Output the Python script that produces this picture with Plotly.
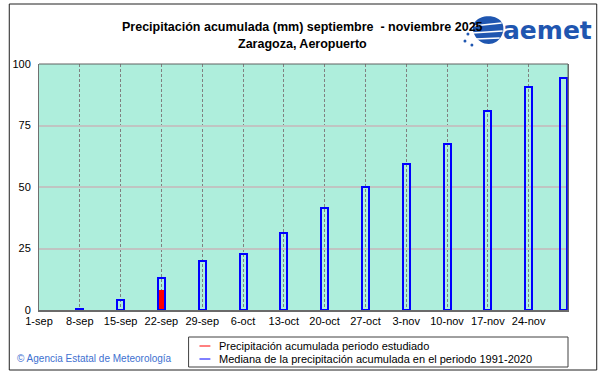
import plotly.graph_objects as go

# ---- data ----
week_dates = ["2025-09-08", "2025-09-15", "2025-09-22", "2025-09-29", "2025-10-06",
              "2025-10-13", "2025-10-20", "2025-10-27", "2025-11-03", "2025-11-10",
              "2025-11-17", "2025-11-24", "2025-11-30"]
median_1991_2020 = [0.4, 4.1, 13.1, 19.9, 22.6, 31.2, 41.3, 50.0, 59.2, 67.3, 81.0, 90.8, 94.2]

obs_dates = ["2025-09-08", "2025-09-15", "2025-09-22"]
observed = [0.0, 0.0, 8.1]

tick_dates = ["2025-09-01", "2025-09-08", "2025-09-15", "2025-09-22", "2025-09-29",
              "2025-10-06", "2025-10-13", "2025-10-20", "2025-10-27", "2025-11-03",
              "2025-11-10", "2025-11-17", "2025-11-24"]
tick_labels = ["1-sep", "8-sep", "15-sep", "22-sep", "29-sep", "6-oct", "13-oct",
               "20-oct", "27-oct", "3-nov", "10-nov", "17-nov", "24-nov"]
y_ticks = [0, 25, 50, 75, 100]

title1 = "Precipitación acumulada (mm) septiembre  - noviembre 2025"
title2 = "Zaragoza, Aeropuerto"
legend_labels = ["Precipitación acumulada periodo estudiado",
                 "Mediana de la precipitación acumulada en el periodo 1991-2020"]
credit = "© Agencia Estatal de Meteorología"

# ---- layout geometry (pixels) ----
W, H = 601, 374
L, R, T, B = 34, 568, 64, 310
DAY = 86400000


def px(x):
    return (x - L) / (R - L)


def py(y):
    return (B - y) / (B - T)


fig = go.Figure()

fig.add_trace(go.Bar(
    x=obs_dates, y=observed, width=[0.85 * DAY] * len(obs_dates),
    marker=dict(color="#ff0000", line=dict(width=0)),
    name=legend_labels[0], showlegend=False,
))
fig.add_trace(go.Bar(
    x=week_dates, y=median_1991_2020, width=[1.2 * DAY] * len(week_dates),
    marker=dict(color="rgba(0,0,0,0)", line=dict(color="#0000ff", width=2)),
    name=legend_labels[1], showlegend=False,
))

shapes = []
annotations = []

# outer frame
shapes.append(dict(type="rect", xref="paper", yref="paper",
                   x0=px(4), x1=px(597), y0=py(370), y1=py(4),
                   line=dict(color="#202020", width=1), layer="below"))

# legend box
shapes.append(dict(type="rect", xref="paper", yref="paper",
                   x0=px(185), x1=px(568), y0=py(367), y1=py(337),
                   line=dict(color="#404040", width=1)))
for yy, col, lab in [(346, "#ff0000", legend_labels[0]), (359, "#0000ff", legend_labels[1])]:
    shapes.append(dict(type="line", xref="paper", yref="paper",
                       x0=px(196), x1=px(207), y0=py(yy), y1=py(yy),
                       line=dict(color=col, width=1)))
    annotations.append(dict(text=lab, xref="paper", yref="paper", x=px(214), y=py(yy),
                            xanchor="left", yanchor="middle", showarrow=False,
                            font=dict(family="Arial, Liberation Sans", size=11, color="#000000")))

# titles
annotations.append(dict(text="<b>" + title1 + "</b>", xref="paper", yref="paper",
                        x=px(300), y=py(27), xanchor="center", yanchor="middle", showarrow=False,
                        font=dict(family="Arial, Liberation Sans", size=12.5, color="#000000")))
annotations.append(dict(text="<b>" + title2 + "</b>", xref="paper", yref="paper",
                        x=px(300), y=py(44), xanchor="center", yanchor="middle", showarrow=False,
                        font=dict(family="Arial, Liberation Sans", size=12.5, color="#000000")))

# logo icon (approximate swirl) and wordmark
shapes.append(dict(type="path", xref="paper", yref="paper",
                   path="M %f,%f C %f,%f %f,%f %f,%f C %f,%f %f,%f %f,%f C %f,%f %f,%f %f,%f Z" % (
                       px(474), py(22),
                       px(480), py(14), px(498), py(14), px(502), py(24),
                       px(505), py(32), px(499), py(44), px(488), py(44),
                       px(476), py(44), px(468), py(30), px(474), py(22)),
                   fillcolor="#1f56b0", line=dict(width=0)))
for (a, b, c, d) in [(472, 26, 501, 23), (471, 33, 502, 31), (475, 39, 499, 38)]:
    shapes.append(dict(type="line", xref="paper", yref="paper",
                       x0=px(a), y0=py(b), x1=px(c), y1=py(d),
                       line=dict(color="#ffffff", width=1.5)))
for (cx, cy) in [(467, 34), (464, 41), (471, 45)]:
    shapes.append(dict(type="circle", xref="paper", yref="paper",
                       x0=px(cx - 1.5), x1=px(cx + 1.5), y0=py(cy + 1.5), y1=py(cy - 1.5),
                       fillcolor="#1f56b0", line=dict(width=0)))
annotations.append(dict(text="<b>aemet</b>", xref="paper", yref="paper",
                        x=px(594), y=py(30), xanchor="right", yanchor="middle", showarrow=False,
                        font=dict(family="DejaVu Sans", size=25, color="#1f56b0")))

# credit
annotations.append(dict(text=credit, xref="paper", yref="paper", x=px(10), y=py(358),
                        xanchor="left", yanchor="middle", showarrow=False,
                        font=dict(family="Arial, Liberation Sans", size=10, color="#4070d0")))

fig.update_layout(
    width=W, height=H,
    margin=dict(l=L, r=W - R, t=T, b=H - B, pad=0),
    paper_bgcolor="#ffffff",
    plot_bgcolor="#aeeedc",
    barmode="overlay",
    bargap=0,
    showlegend=False,
    shapes=shapes,
    annotations=annotations,
    font=dict(family="Arial, Liberation Sans", size=11, color="#000000"),
)
fig.update_xaxes(
    type="date",
    range=["2025-09-01", "2025-11-30 18:00"],
    tickmode="array", tickvals=tick_dates, ticktext=tick_labels,
    showgrid=True, gridcolor="#808080", griddash="3px,2px", gridwidth=1,
    showline=True, linecolor="#6a6a6a", linewidth=2, mirror=False,
    ticks="", tickfont=dict(size=11, color="#000000"), zeroline=False,
)
fig.update_yaxes(
    range=[0, 100], tickmode="array", tickvals=y_ticks,
    showgrid=True, gridcolor="#c0c4c2", gridwidth=2,
    showline=True, linecolor="#707070", linewidth=1, mirror=True,
    ticks="", ticklabelstandoff=5, tickfont=dict(size=11, color="#000000"), zeroline=False,
)
# top & right plot border (darker)
fig.add_shape(type="line", xref="paper", yref="paper", x0=0, x1=1, y0=1, y1=1,
              line=dict(color="#606060", width=1))
fig.add_shape(type="line", xref="paper", yref="paper", x0=1, x1=1, y0=0, y1=1,
              line=dict(color="#606060", width=1))

fig.write_html("out.html",
               config={"displayModeBar": False},
               post_script="document.body.style.margin='0';document.body.style.padding='0';"
                           "document.body.style.overflow='hidden';")
